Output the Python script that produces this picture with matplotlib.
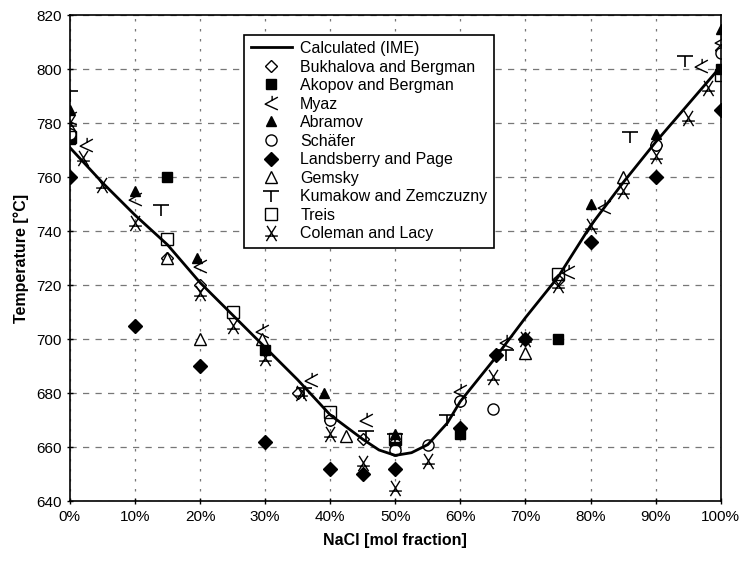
import matplotlib
matplotlib.use('Agg')
from matplotlib import pyplot as plt
from matplotlib.path import Path
from matplotlib.ticker import FuncFormatter

plt.rcParams['font.family'] = ['Liberation Sans', 'DejaVu Sans']

# calculated liquidus (IME)
calc_x = [0, 5, 10, 15, 20, 25, 30, 35, 40, 45, 47.5, 50, 52.5, 55, 58, 60, 65, 70, 75, 80, 85, 90, 95, 100]
calc_y = [771, 758, 746, 735, 721, 709, 697, 685, 672, 663, 659, 657, 658, 661, 669, 677, 692, 708, 723, 742, 758, 773, 787, 801]

bukhalova_x = [0, 15, 20, 35, 40, 45, 50, 60, 75, 90, 100]
bukhalova_y = [776, 730, 720, 680, 670, 663, 662, 677, 722, 772, 807]

akopov_x = [0, 15, 30, 50, 60, 75, 100]
akopov_y = [774, 760, 696, 660, 665, 700, 800]

myaz_x = [0, 2.5, 10, 20, 29.5, 37, 45.5, 60, 67, 76.5, 82, 97, 100]
myaz_y = [782, 772, 752, 727, 703, 685, 670, 681, 699, 725, 749, 801, 810]

abramov_x = [0, 10, 19.5, 39, 50, 80, 90, 100]
abramov_y = [785, 755, 730, 680, 665, 750, 776, 815]

schafer_x = [0, 40, 50, 55, 60, 65, 90, 100]
schafer_y = [776, 670, 659, 661, 677, 674, 772, 806]

landsberry_x = [0, 10, 20, 30, 40, 45, 50, 60, 65.5, 70, 80, 90, 100]
landsberry_y = [760, 705, 690, 662, 652, 650, 652, 667, 694, 700, 736, 760, 785]

gemsky_x = [15, 20, 29.5, 42.5, 70, 85]
gemsky_y = [730, 700, 700, 664, 695, 760]

kurnakow_x = [0, 14, 36, 45.5, 50, 58, 67, 86, 94.5]
kurnakow_y = [790, 748, 680, 664, 663, 670, 694, 775, 803]

treis_x = [0, 15, 25, 40, 50, 75, 100]
treis_y = [775, 737, 710, 673, 663, 724, 798]

coleman_x = [0, 2, 5, 10, 20, 25, 30, 35.5, 40, 45, 50, 55, 65, 70, 75, 80, 85, 90, 95, 98]
coleman_y = [780, 767, 757, 743, 717, 705, 693, 680, 665, 654, 645, 655, 686, 700, 720, 742, 755, 768, 782, 793]

M, L = Path.MOVETO, Path.LINETO
myaz_mark = Path([(0.5, 0.5), (-0.5, -0.05), (0.5, -0.5), (0.05, 0.25), (0.05, 0.6)], [M, L, L, M, L])
kurn_mark = Path([(-0.5, 0.3), (0.5, 0.3), (0, 0.3), (0, -0.4)], [M, L, M, L])
cole_mark = Path([(-0.35, 0.6), (0.4, -0.6), (0.35, 0.6), (-0.4, -0.6), (-0.5, -0.2), (0.5, -0.2)],
                 [M, L, M, L, M, L])

fig, ax = plt.subplots(figsize=(7.43, 5.62), dpi=100)
fig.subplots_adjust(left=0.094, right=0.970, top=0.973, bottom=0.108)

frac = lambda v: [a / 100 for a in v]

ax.plot(frac(calc_x), calc_y, color='k', lw=2, label='Calculated (IME)', zorder=3)
ax.plot(frac(bukhalova_x), bukhalova_y, ls='none', marker='D', ms=6, mfc='white', mec='k', mew=1, label='Bukhalova and Bergman')
ax.plot(frac(akopov_x), akopov_y, ls='none', marker='s', ms=7, color='k', label='Akopov and Bergman')
ax.plot(frac(myaz_x), myaz_y, ls='none', marker=myaz_mark, ms=11, mfc='none', mec='k', mew=1, label='Myaz')
ax.plot(frac(abramov_x), abramov_y, ls='none', marker='^', ms=7, color='k', label='Abramov')
ax.plot(frac(schafer_x), schafer_y, ls='none', marker='o', ms=8, mfc='white', mec='k', mew=1, label='Schäfer')
ax.plot(frac(landsberry_x), landsberry_y, ls='none', marker='D', ms=7, color='k', label='Landsberry and Page')
ax.plot(frac(gemsky_x), gemsky_y, ls='none', marker='^', ms=9, mfc='white', mec='k', mew=1, label='Gemsky')
ax.plot(frac(kurnakow_x), kurnakow_y, ls='none', marker=kurn_mark, ms=11, mfc='none', mec='k', mew=1.2, label='Kumakow and Zemczuzny')
ax.plot(frac(treis_x), treis_y, ls='none', marker='s', ms=9, mfc='none', mec='k', mew=1, label='Treis')
ax.plot(frac(coleman_x), coleman_y, ls='none', marker=cole_mark, ms=11, mfc='none', mec='k', mew=1, label='Coleman and Lacy')

ax.set_xlim(0, 1)
ax.set_ylim(640, 820)
ax.set_xticks([i / 10 for i in range(11)])
ax.set_yticks(range(640, 821, 20))
ax.xaxis.set_major_formatter(FuncFormatter(lambda v, p: '%d%%' % round(v * 100)))
ax.tick_params(direction='inout', length=5, width=1, labelsize=11, colors='k')

ax.xaxis.grid(True, linestyle=(0, (2, 6)), color='#777777', lw=0.9)
ax.yaxis.grid(True, linestyle=(0, (5, 5)), color='#777777', lw=0.9)
ax.set_axisbelow(True)
for s in ax.spines.values():
    s.set_linewidth(1.2)
    s.set_color('k')

ax.set_xlabel('NaCl [mol fraction]', fontsize=11.5, fontweight='bold', labelpad=7)
ax.set_ylabel('Temperature [°C]', fontsize=11.5, fontweight='bold', labelpad=5)

leg = ax.legend(loc='upper left', bbox_to_anchor=(0.268, 0.96), fontsize=11.5, frameon=True,
                fancybox=False, edgecolor='k', framealpha=1, handlelength=2.6, handletextpad=0.5,
                labelspacing=0.22, borderpad=0.4, borderaxespad=0)
leg.get_frame().set_linewidth(1.2)

plt.savefig('out.png', dpi=100)
